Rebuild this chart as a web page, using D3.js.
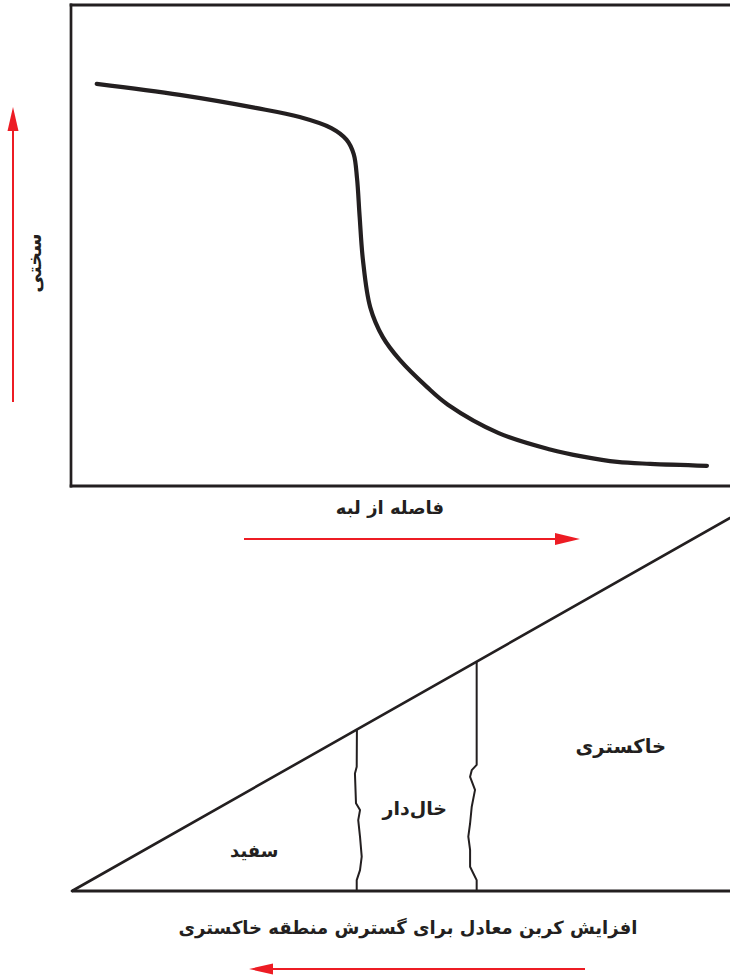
<!DOCTYPE html>
<html>
<head>
<meta charset="utf-8">
<script src="https://cdn.jsdelivr.net/npm/d3@7"></script>
<style>
  html, body { margin: 0; padding: 0; background: #fff; }
  svg { display: block; }
  text { font-family: "DejaVu Sans", "Noto Sans", sans-serif; fill: #231f20; }
</style>
</head>
<body>
<svg id="chart" width="730" height="977"></svg>
<script>
// ---------- DATA ----------
// Top chart: hardness vs distance from edge (relative units 0-100)
const distance = [3.9, 16.5, 28.0, 34.7, 39.5, 41.8, 42.9, 43.4, 43.8, 44.3, 45.4, 47.3, 49.9, 54.0, 57.2, 64.9, 72.7, 77.7, 82.9, 87.9, 96.5];
const hardness = [83.6, 81.3, 78.6, 76.7, 74.4, 72.0, 69.0, 64.0, 56.0, 47.0, 37.2, 31.0, 26.2, 20.6, 16.9, 11.0, 7.6, 6.1, 5.0, 4.6, 4.2];

// Bottom chart: carbon-equivalent wedge and zone boundaries (relative units 0-100)
const wedgeX = [0, 100];
const wedgeY = [0, 100];
const boundary1X = [43.3, 43.27, 43.0, 43.16, 43.77, 43.5, 43.77, 44.03, 43.77, 43.27, 43.27];
const boundary1Y = [43.3, 33.3, 31.5, 23.5, 21.7, 19.0, 14.6, 9.2, 5.6, 2.9, 0];
const boundary2X = [61.5, 61.5, 60.75, 60.5, 61.25, 60.75, 60.5, 60.23, 60.5, 60.5, 61.0, 61.5, 61.5];
const boundary2Y = [61.5, 33.8, 32.4, 30.6, 27.1, 22.6, 18.1, 14.6, 11.0, 6.5, 4.7, 2.9, 0];

const zoneLabels = ["سفید", "خال‌دار", "خاکستری"];
const zoneLabelX = [27.7, 52.1, 83.4];
const zoneLabelY = [9.0, 20.5, 37.0];

const yLabelTop = "سختی";
const xLabelTop = "فاصله از لبه";
const xLabelBottom = "افزایش کربن معادل برای گسترش منطقه خاکستری";

// ---------- DRAW ----------
const svg = d3.select("#chart");
const ink = "#231f20";
const red = "#ed1c24";

// Top chart scales
const x1 = d3.scaleLinear().domain([0, 100]).range([71, 730]);
const y1 = d3.scaleLinear().domain([0, 100]).range([486, 5]);

// frame: left, top, bottom
const gTop = svg.append("g");
gTop.append("line").attr("x1", x1(0)).attr("x2", x1(0)).attr("y1", y1(100) - 1.5).attr("y2", y1(0) + 1.5)
  .attr("stroke", ink).attr("stroke-width", 2.7);
gTop.append("line").attr("x1", x1(0) - 1.3).attr("x2", x1(100)).attr("y1", y1(100)).attr("y2", y1(100))
  .attr("stroke", ink).attr("stroke-width", 3);
gTop.append("line").attr("x1", x1(0) - 1.3).attr("x2", x1(100)).attr("y1", y1(0)).attr("y2", y1(0))
  .attr("stroke", ink).attr("stroke-width", 3);

const curvePts = distance.map((d, i) => [d, hardness[i]]);
gTop.append("path")
  .datum(curvePts)
  .attr("fill", "none")
  .attr("stroke", ink)
  .attr("stroke-width", 4.2)
  .attr("stroke-linecap", "round")
  .attr("d", d3.line().x(d => x1(d[0])).y(d => y1(d[1])).curve(d3.curveCatmullRom.alpha(0.5)));

// labels
svg.append("text")
  .attr("transform", "translate(41,263) rotate(-90)")
  .attr("text-anchor", "middle")
  .attr("font-size", 19).attr("font-weight", "bold")
  .text(yLabelTop);

svg.append("text")
  .attr("x", 390).attr("y", 514)
  .attr("text-anchor", "middle")
  .attr("font-size", 18).attr("font-weight", "bold")
  .text(xLabelTop);

// red arrows
function arrow(x1p, y1p, x2p, y2p, headLen, headHalf) {
  const dx = x2p - x1p, dy = y2p - y1p;
  const len = Math.hypot(dx, dy);
  const ux = dx / len, uy = dy / len;
  const bx = x2p - ux * headLen, by = y2p - uy * headLen;
  svg.append("line").attr("x1", x1p).attr("y1", y1p).attr("x2", bx).attr("y2", by)
    .attr("stroke", red).attr("stroke-width", 2);
  svg.append("path")
    .attr("d", `M${x2p},${y2p}L${bx - uy * headHalf},${by + ux * headHalf}L${bx + uy * headHalf},${by - ux * headHalf}Z`)
    .attr("fill", red);
}
arrow(13, 402, 13, 107, 24, 5.5);
arrow(244, 539, 580, 539, 25, 6);
arrow(585, 969, 249, 969, 24, 5.5);

// Bottom chart scales
const x2 = d3.scaleLinear().domain([0, 100]).range([72, 730]);
const y2 = d3.scaleLinear().domain([0, 100]).range([891, 518]);

const gBot = svg.append("g");
// baseline
gBot.append("line").attr("x1", x2(0)).attr("x2", x2(100)).attr("y1", y2(0)).attr("y2", y2(0))
  .attr("stroke", ink).attr("stroke-width", 3.2);
// hypotenuse
gBot.append("line").attr("x1", x2(wedgeX[0])).attr("y1", y2(wedgeY[0]))
  .attr("x2", x2(wedgeX[1])).attr("y2", y2(wedgeY[1]))
  .attr("stroke", ink).attr("stroke-width", 2.6).attr("stroke-linecap", "round");

const bline = d3.line().x(d => x2(d[0])).y(d => y2(d[1]));
[[boundary1X, boundary1Y], [boundary2X, boundary2Y]].forEach(([bx, by]) => {
  gBot.append("path")
    .datum(bx.map((v, i) => [v, by[i]]))
    .attr("fill", "none").attr("stroke", ink).attr("stroke-width", 2)
    .attr("stroke-linejoin", "round")
    .attr("d", bline);
});

const zoneSizes = [18, 19, 19.5];
zoneLabels.forEach((t, i) => {
  gBot.append("text")
    .attr("x", x2(zoneLabelX[i])).attr("y", y2(zoneLabelY[i]))
    .attr("text-anchor", "middle")
    .attr("font-size", zoneSizes[i]).attr("font-weight", "bold")
    .text(t);
});

svg.append("text")
  .attr("x", 408).attr("y", 934)
  .attr("text-anchor", "middle")
  .attr("font-size", 18).attr("font-weight", "bold")
  .text(xLabelBottom);
</script>
</body>
</html>
